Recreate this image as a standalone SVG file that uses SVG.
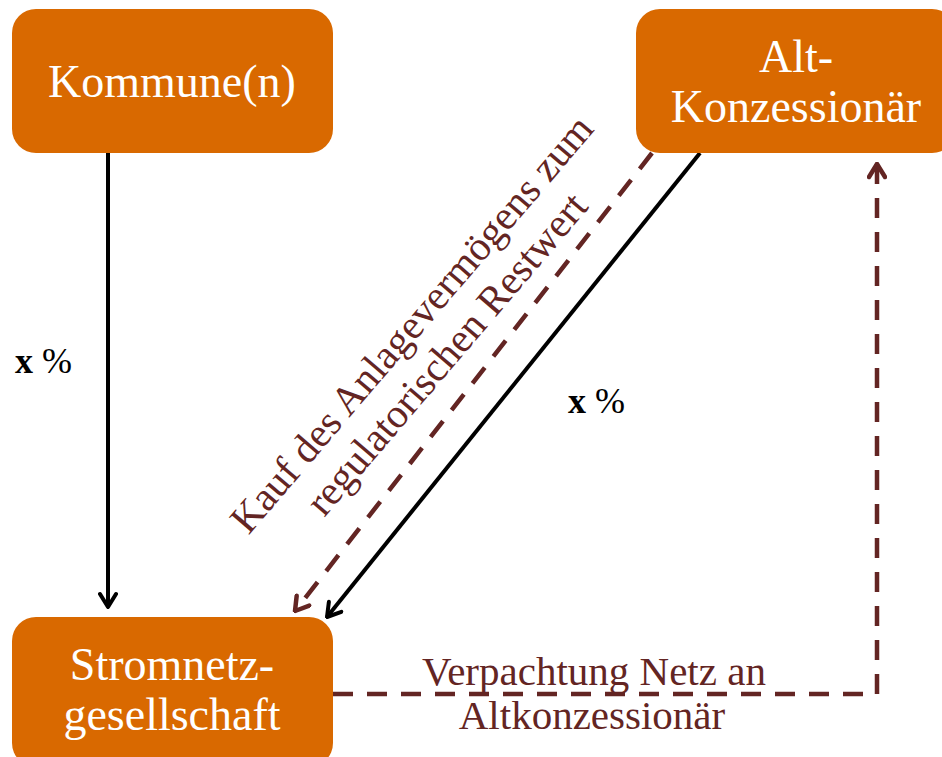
<svg xmlns="http://www.w3.org/2000/svg" width="942" height="757" viewBox="0 0 942 757">
<defs>
<style>
.box{fill:#D96900;}
.bt{font-family:"Liberation Serif","Times New Roman",serif;font-size:46px;fill:#ffffff;text-anchor:middle;}
.lbl{font-family:"Liberation Serif","Times New Roman",serif;font-size:41px;fill:#632523;text-anchor:middle;}
.pct{font-family:"Liberation Serif","Times New Roman",serif;font-size:36px;fill:#000000;}
.solid{fill:none;stroke:#000000;stroke-width:4;}
.dash{fill:none;stroke:#632523;stroke-width:4.5;stroke-dasharray:20 14;}
</style>
<marker id="ab" viewBox="0 0 20 20" refX="18" refY="10" markerWidth="20" markerHeight="20" markerUnits="userSpaceOnUse" orient="auto">
<path d="M5,2 L18,10 L5,18" fill="none" stroke="#000000" stroke-width="4" stroke-linecap="round" stroke-linejoin="round"/>
</marker>
<marker id="ar" viewBox="0 0 20 20" refX="18" refY="10" markerWidth="20" markerHeight="20" markerUnits="userSpaceOnUse" orient="auto">
<path d="M5,2 L18,10 L5,18" fill="none" stroke="#632523" stroke-width="4.5" stroke-linecap="round" stroke-linejoin="round"/>
</marker>
</defs>
<rect width="942" height="757" fill="#ffffff"/>
<g id="connectors">
<line class="solid" x1="108" y1="153" x2="108" y2="607" marker-end="url(#ab)"/>
<line class="solid" x1="700" y1="153" x2="327" y2="617" marker-end="url(#ab)"/>
<line class="dash" x1="652" y1="153" x2="295" y2="611" marker-end="url(#ar)"/>
<polyline class="dash" points="333,694 877,694 877,164" marker-end="url(#ar)"/>
</g>
<g id="kommune">
<rect class="box" x="12" y="9" width="321" height="144" rx="24"/>
<text class="bt" x="172" y="97">Kommune(n)</text>
</g>
<g id="altkonzessionaer">
<rect class="box" x="636" y="9" width="320" height="144" rx="24"/>
<text class="bt" x="796" y="72">Alt-</text>
<text class="bt" x="796" y="122">Konzessionär</text>
</g>
<g id="stromnetzgesellschaft">
<rect class="box" x="12" y="617" width="321" height="150" rx="24"/>
<text class="bt" x="172" y="680">Stromnetz-</text>
<text class="bt" x="172" y="730">gesellschaft</text>
</g>
<g id="labels">
<text class="pct" x="15" y="373"><tspan font-weight="bold">x</tspan> %</text>
<text class="pct" x="568" y="413"><tspan font-weight="bold">x</tspan> %</text>
<text class="lbl" transform="translate(428,338) rotate(-49.5)"><tspan x="0" y="-8">Kauf des Anlagevermögens zum</tspan><tspan x="0" y="38">regulatorischen Restwert</tspan></text>
<text class="lbl" x="594" y="685">Verpachtung Netz an</text>
<text class="lbl" x="592" y="729">Altkonzessionär</text>
</g>
</svg>
